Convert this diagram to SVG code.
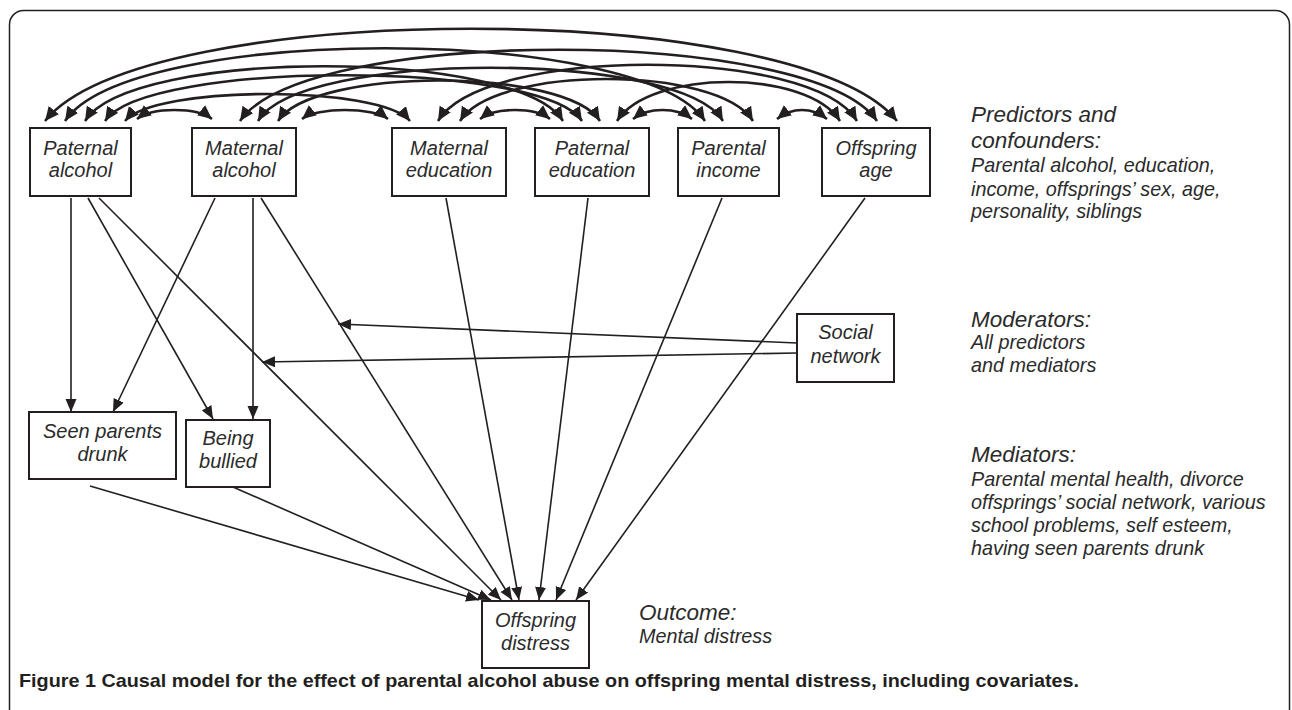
<svg xmlns="http://www.w3.org/2000/svg" width="1292" height="710" viewBox="0 0 1292 710">
<defs>
<marker id="ah" markerUnits="userSpaceOnUse" markerWidth="16" markerHeight="14" refX="14" refY="6.5" orient="auto-start-reverse"><path d="M0,0 L14,6.5 L0,13 z" fill="#231f20"/></marker>
<marker id="as" markerUnits="userSpaceOnUse" markerWidth="15" markerHeight="13" refX="13" refY="5.5" orient="auto"><path d="M0,0 L13,5.5 L0,11 z" fill="#231f20"/></marker>
</defs>
<style>
.box{fill:#fff;stroke:#231f20;stroke-width:2}
.nt{font-family:"Liberation Sans",Arial,sans-serif;font-style:italic;font-size:20px;fill:#2b2b2b;text-anchor:middle}
.h{font-family:"Liberation Sans",Arial,sans-serif;font-style:italic;font-size:22.5px;fill:#2b2b2b}
.s{font-family:"Liberation Sans",Arial,sans-serif;font-style:italic;font-size:19.8px;fill:#2b2b2b}
.arc{fill:none;stroke:#231f20;stroke-width:2.6;marker-start:url(#ah);marker-end:url(#ah)}
.ln{fill:none;stroke:#231f20;stroke-width:1.6;marker-end:url(#as)}
</style>
<rect x="9.5" y="10.5" width="1280" height="740" rx="14" fill="none" stroke="#231f20" stroke-width="1.5"/>
<g id="connectors">
<path class="arc" d="M45,121 C144,-2 798,-2 897,121"/>
<path class="arc" d="M65,121 C130,24 640,24 705,121"/>
<path class="arc" d="M240,121 C305,26 812,26 877,121"/>
<path class="arc" d="M85,121 C130,48 518,48 563,121"/>
<path class="arc" d="M105,121 C145,60 542,60 582,121"/>
<path class="arc" d="M438,121 C483,46 812,46 857,121"/>
<path class="arc" d="M258,121 C300,50 681,50 723,121"/>
<path class="arc" d="M460,121 C495,65 718,65 753,121"/>
<path class="arc" d="M278,121 C313,67 565,67 600,121"/>
<path class="arc" d="M125,121 C155,85 380,85 410,121"/>
<path class="arc" d="M617,121 C650,69 807,69 840,121"/>
<path class="arc" d="M137,119 C152,107 197,107 212,119"/>
<path class="arc" d="M302,119 C317,107 373,107 388,119"/>
<path class="arc" d="M480,119 C495,107 535,107 550,119"/>
<path class="arc" d="M633,119 C648,107 677,107 692,119"/>
<path class="arc" d="M777,119 C792,107 812,107 827,119"/>
<path class="ln" d="M71,198 L71,412"/>
<path class="ln" d="M88,198 L213,419"/>
<path class="ln" d="M99,198 L501,600"/>
<path class="ln" d="M215,198 L113,412"/>
<path class="ln" d="M253,198 L253,419"/>
<path class="ln" d="M261,198 L512,600"/>
<path class="ln" d="M446,198 L519,600"/>
<path class="ln" d="M588,198 L539,600"/>
<path class="ln" d="M722,198 L556,600"/>
<path class="ln" d="M865,198 L576,600"/>
<path class="ln" d="M797,343 L338,324"/>
<path class="ln" d="M797,353 L262,362"/>
<path class="ln" d="M90,486 L479,600"/>
<path class="ln" d="M233,487 L491,600"/>
</g>
<g id="paternal-alcohol"><rect class="box" x="30" y="128" width="101" height="68"/><text class="nt" x="80.5" y="155">Paternal</text><text class="nt" x="80.5" y="177">alcohol</text></g>
<g id="maternal-alcohol"><rect class="box" x="192" y="128" width="104" height="68"/><text class="nt" x="244" y="155">Maternal</text><text class="nt" x="244" y="177">alcohol</text></g>
<g id="maternal-education"><rect class="box" x="392" y="128" width="114" height="68"/><text class="nt" x="449" y="155">Maternal</text><text class="nt" x="449" y="177">education</text></g>
<g id="paternal-education"><rect class="box" x="535" y="128" width="114" height="68"/><text class="nt" x="592" y="155">Paternal</text><text class="nt" x="592" y="177">education</text></g>
<g id="parental-income"><rect class="box" x="678" y="128" width="101" height="68"/><text class="nt" x="728.5" y="155">Parental</text><text class="nt" x="728.5" y="177">income</text></g>
<g id="offspring-age"><rect class="box" x="822" y="128" width="108" height="68"/><text class="nt" x="876" y="155">Offspring</text><text class="nt" x="876" y="177">age</text></g>
<g id="social-network"><rect class="box" x="797" y="314" width="97" height="68"/><text class="nt" x="845.5" y="339">Social</text><text class="nt" x="845.5" y="363">network</text></g>
<g id="seen-parents-drunk"><rect class="box" x="29" y="412" width="147" height="67"/><text class="nt" x="102.5" y="438">Seen parents</text><text class="nt" x="102.5" y="461">drunk</text></g>
<g id="being-bullied"><rect class="box" x="186" y="420" width="84" height="67"/><text class="nt" x="228" y="445">Being</text><text class="nt" x="228" y="468">bullied</text></g>
<g id="offspring-distress"><rect class="box" x="482" y="601" width="107" height="67"/><text class="nt" x="535.5" y="627">Offspring</text><text class="nt" x="535.5" y="650">distress</text></g>
<g id="legend">
<text class="h" x="971" y="122">Predictors and</text>
<text class="h" x="971" y="148">confounders:</text>
<text class="s" x="971" y="172">Parental alcohol, education,</text>
<text class="s" x="971" y="196">income, offsprings’ sex, age,</text>
<text class="s" x="971" y="218">personality, siblings</text>
<text class="h" x="971" y="327">Moderators:</text>
<text class="s" x="971" y="349">All predictors</text>
<text class="s" x="971" y="372">and mediators</text>
<text class="h" x="971" y="462">Mediators:</text>
<text class="s" x="971" y="486">Parental mental health, divorce</text>
<text class="s" x="971" y="509">offsprings’ social network, various</text>
<text class="s" x="971" y="532">school problems, self esteem,</text>
<text class="s" x="971" y="555">having seen parents drunk</text>
<text class="h" x="639" y="620">Outcome:</text>
<text class="s" x="639" y="643">Mental distress</text>
</g>
<text x="19" y="687" font-family="Liberation Sans,Arial,sans-serif" font-weight="bold" font-size="19" fill="#231f20" textLength="1060" lengthAdjust="spacingAndGlyphs">Figure 1 Causal model for the effect of parental alcohol abuse on offspring mental distress, including covariates.</text>
</svg>
